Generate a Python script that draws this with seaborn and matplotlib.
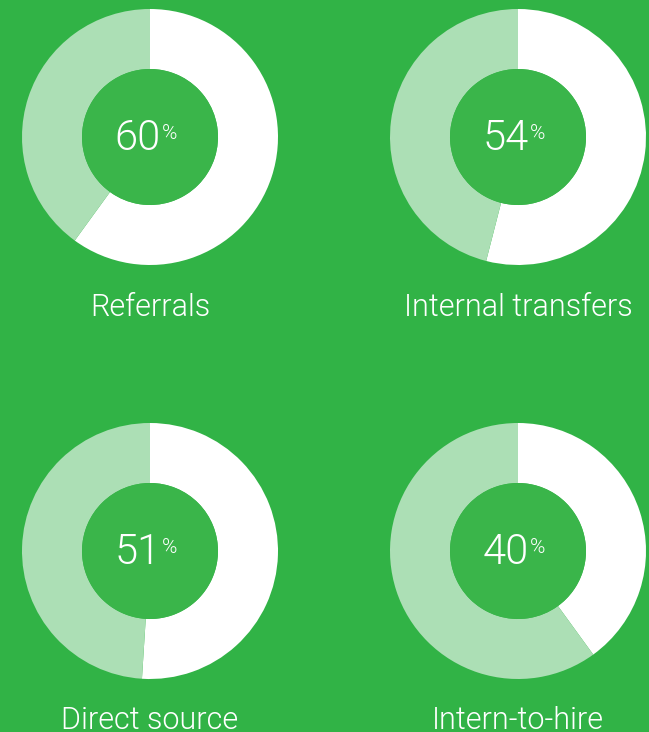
import matplotlib
matplotlib.use("Agg")
import matplotlib.pyplot as plt
import seaborn as sns
import pandas as pd
from matplotlib.patches import Circle

categories = ["Referrals", "Internal transfers", "Direct source", "Intern-to-hire"]
percents = [60, 54, 51, 40]

df = pd.DataFrame({"category": categories, "percent": percents})

sns.set_theme(style="white")
plt.rcParams["font.family"] = ["Roboto", "DejaVu Sans"]

BG = "#31b346"
INNER = "#3ab54a"
LIGHT = "#acdfb5"
WHITE = "#ffffff"

W, H = 649, 732
fig = plt.figure(figsize=(W / 100, H / 100), dpi=100, facecolor=BG)

centers = [(150, 137), (518, 137), (150, 551), (518, 551)]
label_base = [316, 316, 729, 729]
R_OUT = 128
R_IN = 68

for (cx, cy), ly, (_, row) in zip(centers, label_base, df.iterrows()):
    ax = fig.add_axes([(cx - R_OUT) / W, (H - cy - R_OUT) / H, 2 * R_OUT / W, 2 * R_OUT / H])
    ax.set_facecolor(BG)
    p = row["percent"]
    ax.pie([p, 100 - p], colors=[WHITE, LIGHT], startangle=90, counterclock=False,
           radius=1.0, wedgeprops=dict(width=1 - R_IN / R_OUT, linewidth=0, edgecolor="none"))
    ax.add_patch(Circle((0, 0), R_IN / R_OUT, facecolor=INNER, edgecolor="none"))
    ax.set_xlim(-1, 1)
    ax.set_ylim(-1, 1)
    ax.set_aspect("equal")
    ax.axis("off")

    # percentage number
    fig.text((cx + 11) / W, (H - cy - 13) / H, f"{p}", ha="right", va="baseline",
             color="white", fontsize=30, fontweight=300)
    fig.text((cx + 12) / W, (H - cy + 13) / H, "%", ha="left", va="top",
             color="white", fontsize=15, fontweight=300)
    # label
    fig.text(cx / W, (H - ly) / H, row["category"], ha="center", va="baseline",
             color="white", fontsize=22, fontweight=300)

fig.savefig("out.png", dpi=100, facecolor=BG)
